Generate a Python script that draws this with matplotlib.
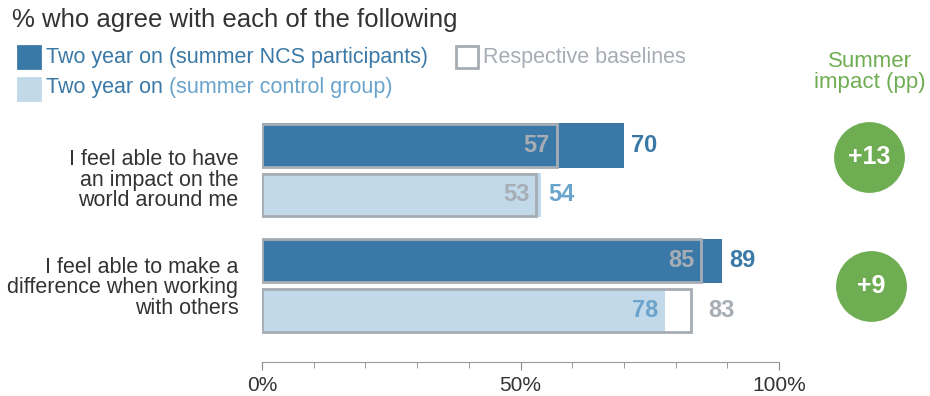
import numpy as np
import matplotlib
matplotlib.use('Agg')
import matplotlib.pyplot as plt

# data
statements = ['I feel able to have\nan impact on the\nworld around me',
              'I feel able to make a\ndifference when working\nwith others']
ncs_two_year = [70, 89]
ncs_baseline = [57, 85]
ctrl_two_year = [54, 78]
ctrl_baseline = [53, 83]
impact = ['+13', '+9']
x_ticks = [0, 50, 100]

# colours
dark = '#3a79a7'
light = '#c1d9e9'
light_txt = '#6aa3cc'
grey = '#a7adb4'
green = '#6fad53'
txt = '#333333'

plt.rcParams['font.family'] = ['Liberation Sans', 'DejaVu Sans']

fig = plt.figure(figsize=(9.3, 3.96), dpi=100)
W, H = 930, 396

# main axes: 0% at x=262px, 100% at x=779px, spans y=110..362px
ax = fig.add_axes([262 / W, (H - 362) / H, (779 - 262) / W, (362 - 110) / H])

group_gap = 2.33
bar_h = 0.89
y_top = np.arange(len(statements)) * group_gap
y_bot = y_top + 1

ax.barh(y_top, ncs_two_year, height=bar_h, color=dark, zorder=2)
ax.barh(y_bot, ctrl_two_year, height=bar_h, color=light, zorder=2)
ax.barh(y_top, ncs_baseline, height=bar_h * 0.97, facecolor='none', edgecolor=grey, linewidth=2, zorder=3)
ax.barh(y_bot, ctrl_baseline, height=bar_h * 0.97, facecolor='none', edgecolor=grey, linewidth=2, zorder=3)

vfs = 17
for i in range(len(statements)):
    # NCS row
    ax.text(ncs_baseline[i] - 1.3, y_top[i], str(ncs_baseline[i]), ha='right', va='center',
            color=grey, fontsize=vfs, fontweight='bold', zorder=4)
    ax.text(ncs_two_year[i] + 1.3, y_top[i], str(ncs_two_year[i]), ha='left', va='center',
            color=dark, fontsize=vfs, fontweight='bold', zorder=4)
    # control row
    if ctrl_two_year[i] >= ctrl_baseline[i]:
        ax.text(ctrl_baseline[i] - 1.3, y_bot[i], str(ctrl_baseline[i]), ha='right', va='center',
                color=grey, fontsize=vfs, fontweight='bold', zorder=4)
        ax.text(ctrl_two_year[i] + 1.3, y_bot[i], str(ctrl_two_year[i]), ha='left', va='center',
                color=light_txt, fontsize=vfs, fontweight='bold', zorder=4)
    else:
        ax.text(ctrl_two_year[i] - 1.3, y_bot[i], str(ctrl_two_year[i]), ha='right', va='center',
                color=light_txt, fontsize=vfs, fontweight='bold', zorder=4)
        ax.text(ctrl_baseline[i] + 3.3, y_bot[i], str(ctrl_baseline[i]), ha='left', va='center',
                color=grey, fontsize=vfs, fontweight='bold', zorder=4)

# impact circles
circ_x = [117.4, 117.8]
circ_y = (y_top + y_bot) / 2 - np.array([0.27, 0.0])
ax.scatter(circ_x, circ_y, s=2600, color=green, clip_on=False, zorder=4, linewidths=0)
for i in range(len(impact)):
    ax.text(circ_x[i], circ_y[i], impact[i], ha='center', va='center',
            color='white', fontsize=18, fontweight='bold', zorder=5)

ax.set_xlim(0, 100)
ax.set_ylim(4.374, -0.717)

ax.set_yticks((y_top + y_bot) / 2 + np.array([0.16, 0.0]))
ax.set_yticklabels(statements, fontsize=15.5, color=txt, ha='right', linespacing=0.97)
ax.tick_params(axis='y', length=0, pad=17)

ax.set_xticks(x_ticks)
ax.set_xticklabels([f'{t}%' for t in x_ticks], fontsize=15, color=txt)
ax.set_xticks(np.arange(0, 101, 10), minor=True)
ax.tick_params(axis='x', which='major', length=6, color='#888888', pad=4)
ax.tick_params(axis='x', which='minor', length=4, color='#888888')

for s in ['top', 'right', 'left']:
    ax.spines[s].set_visible(False)
ax.spines['bottom'].set_color('#999999')

# title and legend
fig.text(12 / W, 1 - 20 / H, '% who agree with each of the following', fontsize=18.5,
         color=txt, va='center', ha='left')

def sq(x, y, face, edge):
    fig.patches.append(plt.Rectangle((x / W, 1 - (y + 22) / H), 22 / W, 22 / H, transform=fig.transFigure,
                                     facecolor=face, edgecolor=edge, linewidth=2))

lfs = 15.5
sq(18, 46, dark, dark)
sq(18, 78, light, light)
sq(456, 46, 'white', grey)
fig.text(46 / W, 1 - 57 / H, 'Two year on (summer NCS participants)', fontsize=lfs, color=dark, va='center')
t = fig.text(46 / W, 1 - 88 / H, 'Two year on ', fontsize=lfs, color=dark, va='center')
fig.canvas.draw()
bb = t.get_window_extent()
fig.text(bb.x1 / W, 1 - 88 / H, '(summer control group)', fontsize=lfs, color=light_txt, va='center')
fig.text(483 / W, 1 - 57 / H, 'Respective baselines', fontsize=lfs, color=grey, va='center')

fig.text(870 / W, 1 - 72 / H, 'Summer\nimpact (pp)', fontsize=16, color=green, ha='center', va='center',
         linespacing=0.95)

fig.savefig('out.png', dpi=100)
